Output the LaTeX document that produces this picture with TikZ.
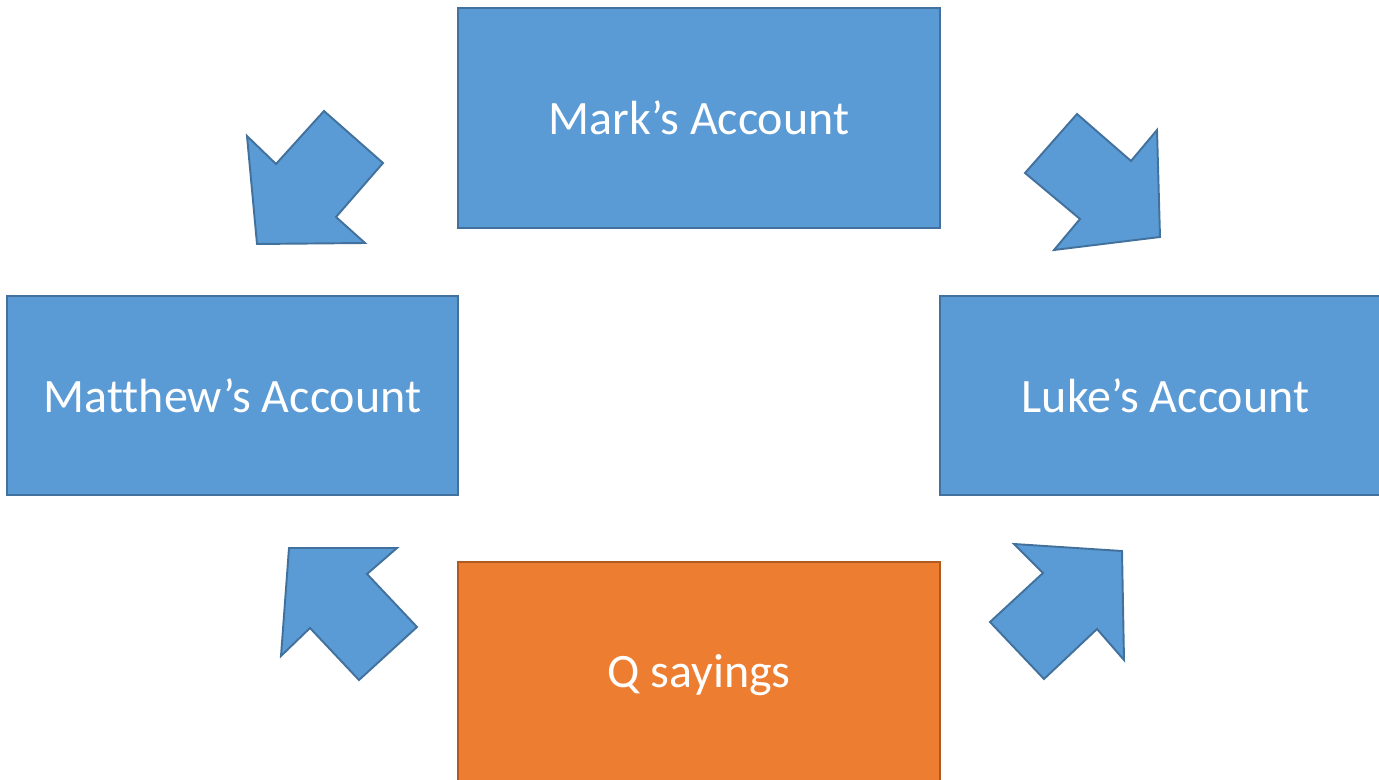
\documentclass[tikz,border=0pt]{standalone}
\usepackage{fontspec}
\setmainfont{Carlito}[Ligatures={NoCommon}]
\usepackage{xcolor}
\usepackage{tikz}
\usetikzlibrary{positioning}

\definecolor{acctblue}{HTML}{5B9BD5}
\definecolor{acctline}{HTML}{41719C}
\definecolor{qorange}{HTML}{ED7D31}
\definecolor{qline}{HTML}{AE5A21}

\begin{document}
\begin{tikzpicture}[x=0.02cm, y=-0.02cm,
    account/.style={rectangle, draw=acctline, fill=acctblue, line width=1.1pt, align=center, text=white, font=\fontsize{27.3}{32}\selectfont, inner sep=0pt},
    source/.style={account, draw=qline, fill=qorange},
    blockarrow/.style={draw=acctline, fill=acctblue, line width=1.1pt, line join=miter}
]
    \useasboundingbox (0,0) rectangle (1379,780);

    % Accounts
    \node[account, minimum width=9.64cm, minimum height=4.4cm] (mark) at (699,118) {Mark’s Account};
    \node[account, minimum width=9.02cm, minimum height=3.98cm] (matthew) at (232.5,395.5) {Matthew’s Account};
    \node[account, minimum width=9.02cm, minimum height=3.98cm] (luke) at (1165.5,395.5) {Luke’s Account};

    % Sayings source
    \node[source, minimum width=9.64cm, minimum height=4.52cm] (q) at (699,675) {Q sayings};

    % Block arrows
    \draw[blockarrow] (247,136) -- (276,164) -- (324,111) -- (383,163) -- (336,217) -- (365,243) -- (257,244) -- cycle;
    \draw[blockarrow] (1077,114) -- (1131,161) -- (1157,130) -- (1160,237) -- (1054,250) -- (1080,219) -- (1025,173) -- cycle;
    \draw[blockarrow] (289,548) -- (397,548) -- (367,574) -- (417,627) -- (359,680) -- (310,628) -- (281,656) -- cycle;
    \draw[blockarrow] (1014,544) -- (1122,551) -- (1124,660) -- (1097,629) -- (1044,679) -- (990,622) -- (1043,573) -- cycle;
\end{tikzpicture}
\end{document}
